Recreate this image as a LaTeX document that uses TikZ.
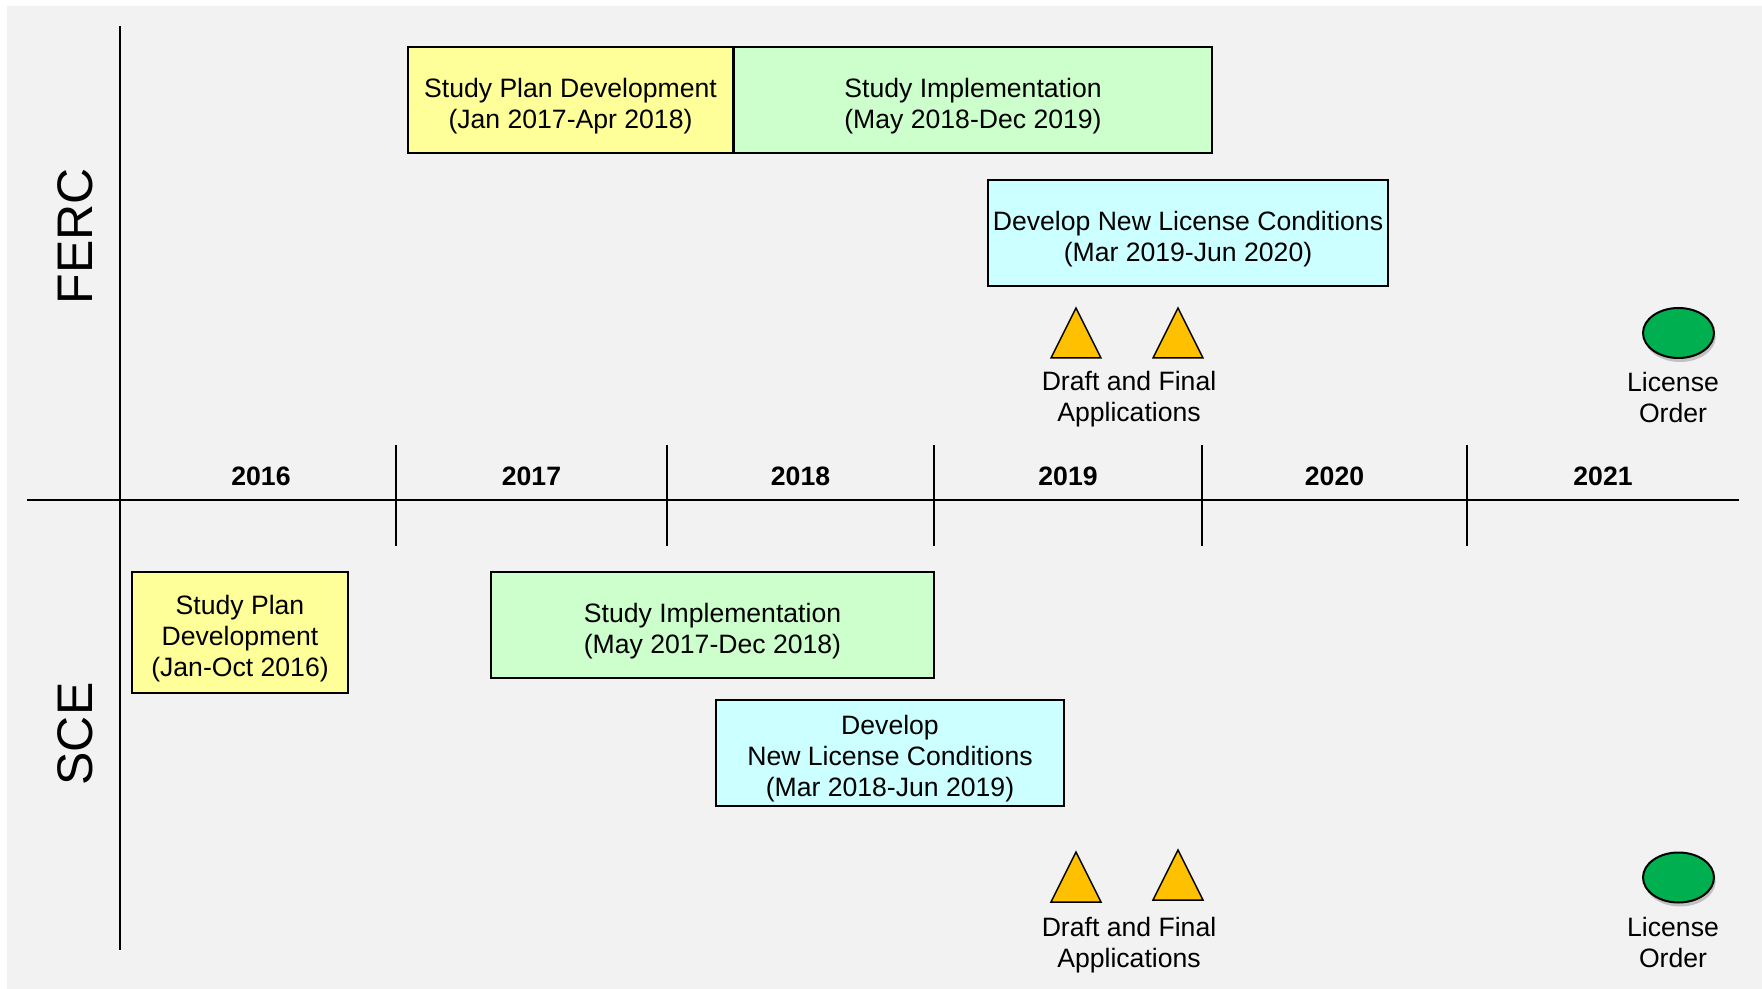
\documentclass[tikz,border=0pt]{standalone}
\usepackage{fontspec}
\setmainfont{Liberation Sans}
\usepackage{tikz}
\usetikzlibrary{shapes.geometric}
\usetikzlibrary{shadows}
\definecolor{bggray}{HTML}{F2F2F2}
\definecolor{planyellow}{HTML}{FFFF99}
\definecolor{implgreen}{HTML}{CCFFCC}
\definecolor{condcyan}{HTML}{CCFFFF}
\definecolor{appamber}{HTML}{FFC000}
\definecolor{ordergreen}{HTML}{00B050}
\newcommand{\phasetop}{\rule{0pt}{15.3pt}}
\tikzset{
  phase/.style={draw=black,line width=1pt,align=center,inner sep=0pt,font=\fontsize{13.3}{15.5}\selectfont},
  note/.style={align=center,inner sep=0pt,anchor=north,font=\fontsize{13.3}{15.5}\selectfont},
  yearlabel/.style={inner sep=0pt,font=\fontsize{13.3}{15.5}\selectfont\bfseries},
  party/.style={rotate=90,inner sep=0pt,font=\fontsize{25}{30}\selectfont},
  milestone/.style={ellipse,draw=black,line width=1pt,fill=ordergreen,minimum width=35.5pt,minimum height=25pt,inner sep=0pt,
    drop shadow={shadow xshift=0.8pt,shadow yshift=-2pt,opacity=0.35,fill=black!60}},
  appmark/.style={draw=black,line width=0.75pt,fill=appamber,line join=miter}
}
\begin{document}
\begin{tikzpicture}[line cap=butt,line join=miter,x=0.5pt,y=-0.5pt]
      \useasboundingbox (0,0) rectangle (1762,989);
      \fill[bggray] (7,6) rectangle (1762,989);
      % axes
      \draw[line width=1pt] (27,500) -- (1739,500);
      \draw[line width=0.8pt] (120,26) -- (120,950);
      \foreach \x in {396,667,934,1202,1467}
      \draw[line width=0.75pt] (\x,445) -- (\x,546);
      \foreach \x/\yr in {261/2016,531.5/2017,800.5/2018,1068/2019,1334.5/2020,1603/2021}
      \node[yearlabel] (year\yr) at (\x,476) {\yr};
      \node[party] (ferc) at (75.5,236) {FERC};
      \node[party] (sce) at (75.5,734) {SCE};
      % FERC schedule
      \node[phase,fill=planyellow,minimum width=162.5pt,minimum height=53pt] (fercplan) at (570.5,100) {\phasetop Study Plan Development\\(Jan 2017-Apr 2018)};
      \node[phase,fill=implgreen,minimum width=239pt,minimum height=53pt] (fercimpl) at (973,100) {\phasetop Study Implementation\\(May 2018-Dec 2019)};
      \node[phase,fill=condcyan,minimum width=200pt,minimum height=53pt] (ferccond) at (1188,233) {\phasetop Develop New License Conditions\\(Mar 2019-Jun 2020)};
      \node[milestone] (fercorder) at (1678.5,333) {};
      \node[note] (fercapps) at (1129,371) {Draft and Final\\Applications};
      \node[note] (fercorderlabel) at (1673,372) {License\\Order};
      % SCE schedule
      \node[phase,fill=planyellow,minimum width=108pt,minimum height=60.5pt] (sceplan) at (240,632.5) {\phasetop Study Plan\\Development\\(Jan-Oct 2016)};
      \node[phase,fill=implgreen,minimum width=221.5pt,minimum height=53pt] (sceimpl) at (712.5,625) {\phasetop Study Implementation\\(May 2017-Dec 2018)};
      \node[phase,fill=condcyan,minimum width=174pt,minimum height=53pt] (scecond) at (890,753) {\phasetop Develop\\New License Conditions\\(Mar 2018-Jun 2019)};
      \node[milestone] (sceorder) at (1678.5,877.5) {};
      \node[note] (sceapps) at (1129,917) {Draft and Final\\Applications};
      \node[note] (sceorderlabel) at (1673,917) {License\\Order};
      % application markers
      \foreach \x/\y in {1076/358,1178/358,1076/902,1178/900}
      \draw[appmark,shift={(\x,\y)}] (-25,0) -- (0,-50) -- (25,0) -- cycle;
    \end{tikzpicture}
\end{document}
